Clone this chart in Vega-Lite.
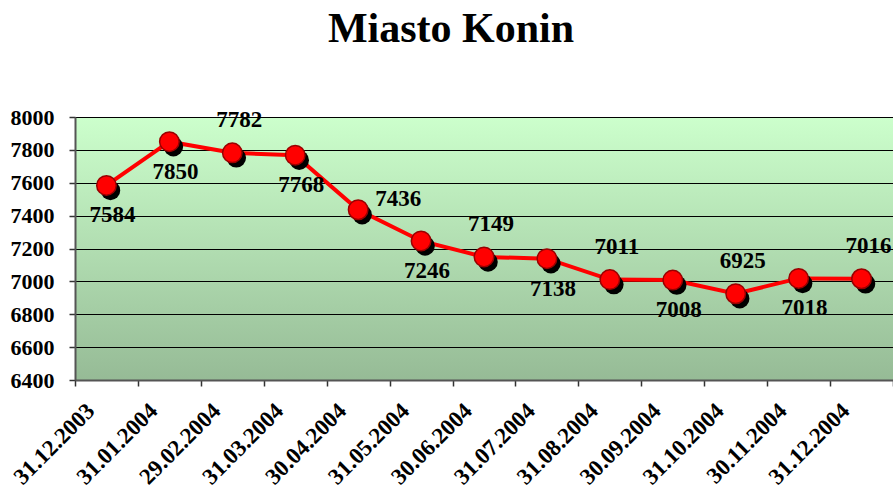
{
  "$schema": "https://vega.github.io/schema/vega-lite/v6.json",
  "autosize": {"type": "none"},
  "width": 818,
  "height": 263,
  "padding": {"left": 75, "top": 117, "right": 0, "bottom": 113},
  "background": "white",
  "title": {
    "text": "Miasto Konin",
    "font": "'Liberation Serif', 'DejaVu Serif', serif",
    "fontSize": 42,
    "fontWeight": "bold",
    "color": "black",
    "anchor": "middle",
    "dx": -33,
    "offset": 55
  },
  "config": {
    "view": {
      "stroke": "#808080",
      "strokeWidth": 1,
      "fill": {
        "gradient": "linear",
        "x1": 0, "y1": 0, "x2": 0, "y2": 1,
        "stops": [
          {"offset": 0, "color": "#ccffcc"},
          {"offset": 1, "color": "#96bb96"}
        ]
      }
    }
  },
  "data": {
    "values": [
      {"date": "31.12.2003", "value": 7584},
      {"date": "31.01.2004", "value": 7850},
      {"date": "29.02.2004", "value": 7782},
      {"date": "31.03.2004", "value": 7768},
      {"date": "30.04.2004", "value": 7436},
      {"date": "31.05.2004", "value": 7246},
      {"date": "30.06.2004", "value": 7149},
      {"date": "31.07.2004", "value": 7138},
      {"date": "31.08.2004", "value": 7011},
      {"date": "30.09.2004", "value": 7008},
      {"date": "31.10.2004", "value": 6925},
      {"date": "30.11.2004", "value": 7018},
      {"date": "31.12.2004", "value": 7016}
    ]
  },
  "encoding": {
    "x": {
      "field": "date",
      "type": "ordinal",
      "sort": null,
      "scale": {"paddingInner": 0, "paddingOuter": 0},
      "axis": {
        "title": null,
        "labelAngle": -45,
        "labelAlign": "right",
        "labelBaseline": "middle",
        "labelFont": "'Liberation Serif', 'DejaVu Serif', serif",
        "labelFontWeight": "bold",
        "labelFontSize": 23,
        "labelColor": "black",
        "labelOffset": -16,
        "labelPadding": 21,
        "tickBand": "extent",
        "tickSize": 6,
        "tickColor": "#333333",
        "tickWidth": 1.5,
        "domainColor": "#555555",
        "domainWidth": 2,
        "grid": false
      }
    },
    "y": {
      "field": "value",
      "type": "quantitative",
      "scale": {"domain": [6400, 8000], "nice": false, "zero": false},
      "axis": {
        "title": null,
        "format": "d",
        "values": [6400, 6600, 6800, 7000, 7200, 7400, 7600, 7800, 8000],
        "labelFont": "'Liberation Serif', 'DejaVu Serif', serif",
        "labelFontWeight": "bold",
        "labelFontSize": 22,
        "labelColor": "black",
        "labelPadding": 15,
        "tickSize": 6,
        "tickColor": "#333333",
        "tickWidth": 1.5,
        "domainColor": "#555555",
        "domainWidth": 2,
        "grid": true,
        "gridColor": "black",
        "gridWidth": 1,
        "gridOpacity": 1
      }
    }
  },
  "layer": [
    {"mark": {"type": "line", "color": "#ff0000", "strokeWidth": 4}},
    {"mark": {"type": "circle", "color": "black", "opacity": 1, "size": 380, "xOffset": 4, "yOffset": 5}},
    {"mark": {"type": "circle", "color": "#ff0000", "opacity": 1, "size": 380, "stroke": "#990000", "strokeWidth": 1.5}},
    {
      "transform": [{"filter": {"field": "date", "oneOf": ["31.12.2003","31.01.2004","31.03.2004","31.05.2004","31.07.2004","30.09.2004","30.11.2004"]}}],
      "mark": {"type": "text", "font": "'Liberation Serif', 'DejaVu Serif', serif", "fontWeight": "bold", "fontSize": 23, "color": "black", "dx": 6, "dy": 30},
      "encoding": {"text": {"field": "value", "type": "quantitative", "format": "d"}}
    },
    {
      "transform": [{"filter": {"field": "date", "oneOf": ["29.02.2004","30.06.2004","31.08.2004","31.10.2004","31.12.2004"]}}],
      "mark": {"type": "text", "font": "'Liberation Serif', 'DejaVu Serif', serif", "fontWeight": "bold", "fontSize": 23, "color": "black", "dx": 7, "dy": -33},
      "encoding": {"text": {"field": "value", "type": "quantitative", "format": "d"}}
    },
    {
      "transform": [{"filter": {"field": "date", "equal": "30.04.2004"}}],
      "mark": {"type": "text", "font": "'Liberation Serif', 'DejaVu Serif', serif", "fontWeight": "bold", "fontSize": 23, "color": "black", "dx": 40, "dy": -11},
      "encoding": {"text": {"field": "value", "type": "quantitative", "format": "d"}}
    }
  ]
}
